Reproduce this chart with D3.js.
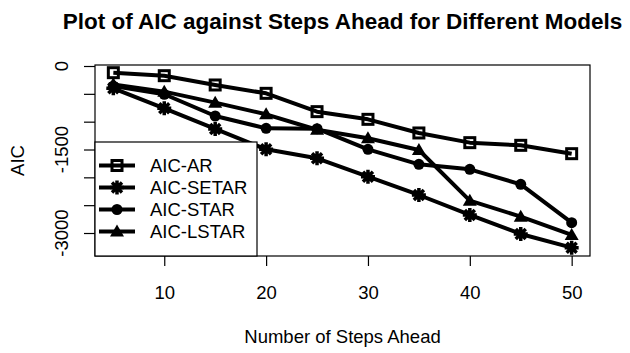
<!DOCTYPE html>
<html>
<head>
<meta charset="utf-8">
<script src="https://cdn.jsdelivr.net/npm/d3@7"></script>
<style>
  body { margin: 0; background: #fff; }
  text { font-family: "Liberation Sans", Arial, sans-serif; fill: #000; }
</style>
</head>
<body>
<script>
	// data
	var steps = [5, 10, 15, 20, 25, 30, 35, 40, 45, 50];
	var aicAR    = [-120, -174, -341, -491, -820, -958, -1203, -1377, -1425, -1575];
	var aicSETAR = [-400, -760, -1131, -1497, -1658, -1988, -2317, -2676, -3017, -3263];
	var aicSTAR  = [-360, -508, -898, -1120, -1125, -1497, -1766, -1856, -2125, -2814];
	var aicLSTAR = [-330, -461, -658, -868, -1145, -1299, -1509, -2419, -2706, -3035];
	var seriesNames = ["AIC-AR", "AIC-SETAR", "AIC-STAR", "AIC-LSTAR"];
	var xTicks = [10, 20, 30, 40, 50];
	var yTicks = [0, -500, -1000, -1500, -2000, -2500, -3000];
	var yLabelled = [0, -1500, -3000];
	var xlim = [3.2, 51.8], ylim = [-3413, 18];

	var pLeft = 95, pRight = 590, pTop = 65, pBottom = 256;

	var svg = d3.select("body").append("svg")
		.attr("width", 630)
		.attr("height", 353);

	var x = d3.scaleLinear().domain(xlim).range([pLeft, pRight]);
	var y = d3.scaleLinear().domain(ylim).range([pBottom, pTop]);

	var allSeries = [aicAR, aicSETAR, aicSTAR, aicLSTAR];
	var shapes = ["square", "asterisk", "circle", "triangle"];

	// draw one marker of a given kind into g
	function marker(g, kind) {
		if (kind == "square") {
			g.append("rect").attr("x", -5).attr("y", -5).attr("width", 10).attr("height", 10)
				.attr("fill", "none").attr("stroke", "#000").attr("stroke-width", 3);
		} else if (kind == "asterisk") {
			var p = "M-7,0L7,0M0,-7L0,7M-5,-5L5,5M-5,5L5,-5";
			g.append("path").attr("d", p).attr("stroke", "#000").attr("stroke-width", 3.5);
		} else if (kind == "circle") {
			g.append("circle").attr("r", 5.5).attr("fill", "#000");
		} else {
			g.append("path").attr("d", "M0,-7L7,5L-7,5Z").attr("fill", "#000");
		}
	}

	var line = d3.line()
		.x(function(d, i){ return x(steps[i]); })
		.y(function(d){ return y(d); });

	allSeries.forEach(function(vals, k) {
		svg.append("path")
			.attr("d", line(vals))
			.attr("fill", "none")
			.attr("stroke", "#000")
			.attr("stroke-width", 4)
			.attr("stroke-linejoin", "round");
		vals.forEach(function(v, i) {
			var g = svg.append("g").attr("transform", "translate(" + x(steps[i]) + "," + y(v) + ")");
			marker(g, shapes[k]);
		});
	});

	// plot box
	svg.append("rect")
		.attr("x", pLeft).attr("y", pTop)
		.attr("width", pRight - pLeft).attr("height", pBottom - pTop)
		.attr("fill", "none").attr("stroke", "#000").attr("stroke-width", 1.2);

	// x axis
	var xAxis = svg.append("g")
		.attr("transform", "translate(0," + pBottom + ")")
		.call(d3.axisBottom(x).tickValues(xTicks).tickSize(10).tickSizeOuter(0).tickPadding(20));
	xAxis.select(".domain").remove();
	xAxis.selectAll("text").style("font-size", "18.5px").style("font-family", "Liberation Sans, Arial, sans-serif");
	xAxis.selectAll("line").attr("stroke-width", 1.2);

	// y axis, R style rotated labels
	var yAxis = svg.append("g")
		.attr("transform", "translate(" + pLeft + ",0)")
		.call(d3.axisLeft(y).tickValues(yTicks).tickSize(11).tickSizeOuter(0).tickFormat(""));
	yAxis.select(".domain").remove();
	yAxis.selectAll("line").attr("stroke-width", 1.2);

	yLabelled.forEach(function(v) {
		svg.append("text")
			.attr("transform", "translate(68," + y(v) + ") rotate(-90)")
			.attr("text-anchor", "middle")
			.style("font-size", "18.5px")
			.text(v);
	});

	// titles
	svg.append("text")
		.attr("x", (pLeft + pRight) / 2).attr("y", 28.5)
		.attr("text-anchor", "middle")
		.style("font-size", "22.5px").style("font-weight", "bold")
		.text("Plot of AIC against Steps Ahead for Different Models");

	svg.append("text")
		.attr("x", (pLeft + pRight) / 2).attr("y", 343)
		.attr("text-anchor", "middle")
		.style("font-size", "18.5px")
		.text("Number of Steps Ahead");

	svg.append("text")
		.attr("transform", "translate(24," + (pTop + pBottom) / 2 + ") rotate(-90)")
		.attr("text-anchor", "middle")
		.style("font-size", "18.5px")
		.text("AIC");

	// legend
	var legend = svg.append("g");
	legend.append("rect")
		.attr("x", pLeft).attr("y", 142)
		.attr("width", 162).attr("height", pBottom - 142)
		.attr("fill", "#fff").attr("stroke", "#000").attr("stroke-width", 1.2);

	seriesNames.forEach(function(name, i) {
		var row = legend.append("g")
			.attr("transform", "translate(" + pLeft + "," + (165.5 + i * 22) + ")");
		row.append("line")
			.attr("x1", 4).attr("x2", 40)
			.attr("stroke", "#000").attr("stroke-width", 4);
		marker(row.append("g").attr("transform", "translate(22,0)"), shapes[i]);
		row.append("text")
			.attr("x", 55).attr("y", 6.5)
			.style("font-size", "18.5px")
			.text(name);
	});
</script>
</body>
</html>
